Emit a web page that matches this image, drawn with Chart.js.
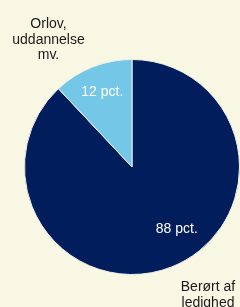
<!DOCTYPE html>
<html>
<head>
<meta charset="utf-8">
<script src="https://cdn.jsdelivr.net/npm/chart.js@4"></script>
<style>
  html, body { margin: 0; padding: 0; background: #F8F7E3; }
  #wrap { width: 240px; height: 307px; }
</style>
</head>
<body>
<div id="wrap"><canvas id="chart" width="240" height="307"></canvas></div>
<script>
// data
const categories = ['Berørt af ledighed', 'Orlov, uddannelse mv.'];
const values = [88, 12];
const valueLabels = ['88 pct.', '12 pct.'];
const colors = ['#021D5B', '#74C7E6'];

// outside labels, split in lines
const outsideLines = [['Berørt af', 'ledighed'], ['Orlov,', 'uddannelse', 'mv.']];

const labelPlugin = {
  id: 'pieLabels',
  afterDatasetsDraw(chart) {
    const ctx = chart.ctx;
    const arcs = chart.getDatasetMeta(0).data;
    ctx.save();
    ctx.font = '14px "Liberation Sans", Arial, sans-serif';
    ctx.textAlign = 'center';
    ctx.textBaseline = 'middle';

    // value labels inside slices
    ctx.fillStyle = '#ffffff';
    // angle shift for the big slice label (it sits lower right, not at the middle)
    const shift = [-0.25, 0];
    const rFrac = [0.71, 0.75];
    arcs.forEach((arc, i) => {
      const p = arc.getProps(['x', 'y', 'startAngle', 'endAngle', 'outerRadius'], true);
      const mid = (p.startAngle + p.endAngle) / 2 + shift[i];
      const r = p.outerRadius * rFrac[i];
      ctx.fillText(valueLabels[i], p.x + Math.cos(mid) * r, p.y + Math.sin(mid) * r);
    });

    // category labels outside
    ctx.fillStyle = '#1b1b1b';
    ctx.textBaseline = 'alphabetic';
    const lh = 15.5;
    const a = chart.chartArea;
    // bottom right
    outsideLines[0].forEach((t, j) => ctx.fillText(t, 208, a.bottom + 16 + j * lh));
    // top left
    outsideLines[1].forEach((t, j) => ctx.fillText(t, 48.5, 28 + j * lh));
    ctx.restore();
  }
};

new Chart(document.getElementById('chart'), {
  type: 'pie',
  data: {
    labels: categories,
    datasets: [{
      data: values,
      backgroundColor: colors,
      borderColor: '#EEF0E8',
      borderWidth: 1
    }]
  },
  options: {
    responsive: false,
    animation: false,
    layout: { padding: { top: 59, bottom: 32, left: 24, right: 0 } },
    plugins: {
      legend: { display: false },
      tooltip: { enabled: false }
    }
  },
  plugins: [labelPlugin]
});
</script>
</body>
</html>
